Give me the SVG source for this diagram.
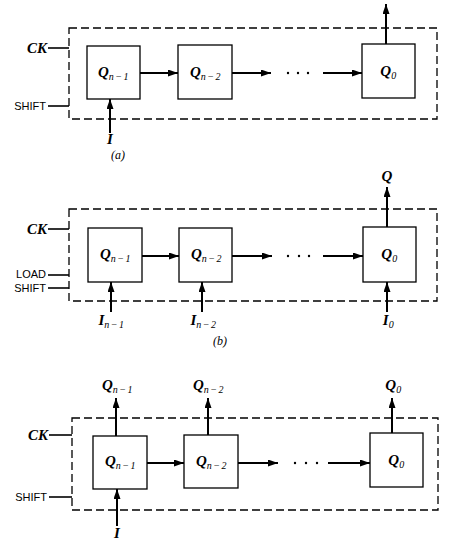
<svg xmlns="http://www.w3.org/2000/svg" width="454" height="541" viewBox="0 0 454 541">
<defs>
<marker id="ah" markerUnits="userSpaceOnUse" markerWidth="10" markerHeight="7" refX="10" refY="3.5" orient="auto">
<path d="M0,0 L10,3.5 L0,7 Z" fill="#000"/>
</marker>
<style>
.dash{fill:none;stroke:#000;stroke-width:1.3;stroke-dasharray:8 4}
.box{fill:#fff;stroke:#000;stroke-width:1.3}
.w{fill:none;stroke:#000;stroke-width:1.6}
.a{fill:none;stroke:#000;stroke-width:2;marker-end:url(#ah)}
.q{font-family:"Liberation Serif",serif;font-style:italic;font-weight:bold;font-size:15px;fill:#000}
.s{font-size:10px;font-weight:normal;letter-spacing:1.5px}
.ck{font-family:"Liberation Serif",serif;font-style:italic;font-weight:bold;font-size:15px;fill:#000}
.sf{font-family:"Liberation Sans",Arial,sans-serif;font-size:11px;fill:#000}
.cap{font-family:"Liberation Serif",serif;font-style:italic;font-size:12px;fill:#000}
.dot{fill:#000}
</style>
</defs>

<!-- (a) -->
<g id="a-frame">
<rect class="dash" x="69" y="28" width="368" height="91"/>
<text class="ck" x="47" y="53" text-anchor="end">CK</text>
<text class="sf" x="46" y="110" text-anchor="end">SHIFT</text>
<text class="cap" x="118" y="159" text-anchor="middle">(a)</text>
</g>
<g id="a-qn1"><rect class="box" x="87" y="46" width="53" height="53"/><text class="q" x="114" y="77" text-anchor="middle">Q<tspan class="s" dy="3">n−1</tspan></text></g>
<g id="a-qn2"><rect class="box" x="178" y="45" width="54" height="54"/><text class="q" x="206" y="77" text-anchor="middle">Q<tspan class="s" dy="3">n−2</tspan></text></g>
<g id="a-q0"><rect class="box" x="362" y="44" width="53" height="54"/><text class="q" x="389" y="76" text-anchor="middle">Q<tspan class="s" dy="3">0</tspan></text></g>
<g id="a-in"><text class="ck" x="110" y="144" text-anchor="middle">I</text></g>
<g id="a-conn">
<line class="w" x1="48" y1="48" x2="69" y2="48"/>
<line class="w" x1="48" y1="106" x2="69" y2="106"/>
<line class="a" x1="140" y1="73" x2="178" y2="73"/>
<line class="a" x1="232" y1="73" x2="271" y2="73"/>
<line class="a" x1="323" y1="73" x2="362" y2="73"/>
<line class="a" x1="386" y1="44" x2="386" y2="4"/>
<line class="a" x1="110" y1="133" x2="110" y2="99"/>
<circle class="dot" cx="288" cy="73" r="1.2"/><circle class="dot" cx="298" cy="73" r="1.2"/><circle class="dot" cx="308" cy="73" r="1.2"/>
</g>

<!-- (b) -->
<g id="b-frame">
<rect class="dash" x="69" y="209" width="368" height="92"/>
<text class="ck" x="47" y="234" text-anchor="end">CK</text>
<text class="sf" x="46" y="278" text-anchor="end">LOAD</text>
<text class="sf" x="46" y="292" text-anchor="end">SHIFT</text>
<text class="cap" x="220" y="345" text-anchor="middle">(b)</text>
</g>
<g id="b-qn1"><rect class="box" x="88" y="228" width="54" height="54"/><text class="q" x="116" y="259" text-anchor="middle">Q<tspan class="s" dy="3">n−1</tspan></text></g>
<g id="b-qn2"><rect class="box" x="179" y="228" width="53" height="54"/><text class="q" x="207" y="259" text-anchor="middle">Q<tspan class="s" dy="3">n−2</tspan></text></g>
<g id="b-q0"><rect class="box" x="363" y="227" width="53" height="55"/><text class="q" x="390" y="259" text-anchor="middle">Q<tspan class="s" dy="3">0</tspan></text></g>
<g id="b-out"><text class="q" x="387" y="181" text-anchor="middle">Q</text></g>
<g id="b-in1"><text class="q" x="112" y="325" text-anchor="middle">I<tspan class="s" dy="3">n−1</tspan></text></g>
<g id="b-in2"><text class="q" x="204" y="325" text-anchor="middle">I<tspan class="s" dy="3">n−2</tspan></text></g>
<g id="b-in0"><text class="q" x="389" y="325" text-anchor="middle">I<tspan class="s" dy="3">0</tspan></text></g>
<g id="b-conn">
<line class="w" x1="48" y1="229" x2="69" y2="229"/>
<line class="w" x1="48" y1="275" x2="69" y2="275"/>
<line class="w" x1="48" y1="288" x2="69" y2="288"/>
<line class="a" x1="142" y1="256" x2="179" y2="256"/>
<line class="a" x1="232" y1="256" x2="272" y2="256"/>
<line class="a" x1="323" y1="256" x2="363" y2="256"/>
<line class="a" x1="387" y1="227" x2="387" y2="187"/>
<line class="a" x1="111" y1="312" x2="111" y2="282"/>
<line class="a" x1="202" y1="312" x2="202" y2="282"/>
<line class="a" x1="387" y1="312" x2="387" y2="282"/>
<circle class="dot" cx="288" cy="256" r="1.2"/><circle class="dot" cx="299" cy="256" r="1.2"/><circle class="dot" cx="309" cy="256" r="1.2"/>
</g>

<!-- (c) -->
<g id="c-frame">
<rect class="dash" x="72" y="418" width="366" height="92"/>
<text class="ck" x="48" y="440" text-anchor="end">CK</text>
<text class="sf" x="47" y="501" text-anchor="end">SHIFT</text>
</g>
<g id="c-qn1"><rect class="box" x="93" y="436" width="54" height="53"/><text class="q" x="121" y="466" text-anchor="middle">Q<tspan class="s" dy="3">n−1</tspan></text></g>
<g id="c-qn2"><rect class="box" x="184" y="435" width="54" height="53"/><text class="q" x="212" y="466" text-anchor="middle">Q<tspan class="s" dy="3">n−2</tspan></text></g>
<g id="c-q0"><rect class="box" x="370" y="433" width="53" height="54"/><text class="q" x="397" y="465" text-anchor="middle">Q<tspan class="s" dy="3">0</tspan></text></g>
<g id="c-o1"><text class="q" x="118" y="390" text-anchor="middle">Q<tspan class="s" dy="3">n−1</tspan></text></g>
<g id="c-o2"><text class="q" x="209" y="390" text-anchor="middle">Q<tspan class="s" dy="3">n−2</tspan></text></g>
<g id="c-o0"><text class="q" x="394" y="390" text-anchor="middle">Q<tspan class="s" dy="3">0</tspan></text></g>
<g id="c-in"><text class="ck" x="117" y="538" text-anchor="middle">I</text></g>
<g id="c-conn">
<line class="w" x1="49" y1="435" x2="72" y2="435"/>
<line class="w" x1="49" y1="497" x2="72" y2="497"/>
<line class="a" x1="147" y1="463" x2="184" y2="463"/>
<line class="a" x1="238" y1="463" x2="278" y2="463"/>
<line class="a" x1="328" y1="463" x2="370" y2="463"/>
<line class="a" x1="116" y1="436" x2="116" y2="398"/>
<line class="a" x1="208" y1="435" x2="208" y2="398"/>
<line class="a" x1="392" y1="433" x2="392" y2="398"/>
<line class="a" x1="117" y1="526" x2="117" y2="489"/>
<circle class="dot" cx="295" cy="463" r="1.2"/><circle class="dot" cx="306" cy="463" r="1.2"/><circle class="dot" cx="317" cy="463" r="1.2"/>
</g>
</svg>
